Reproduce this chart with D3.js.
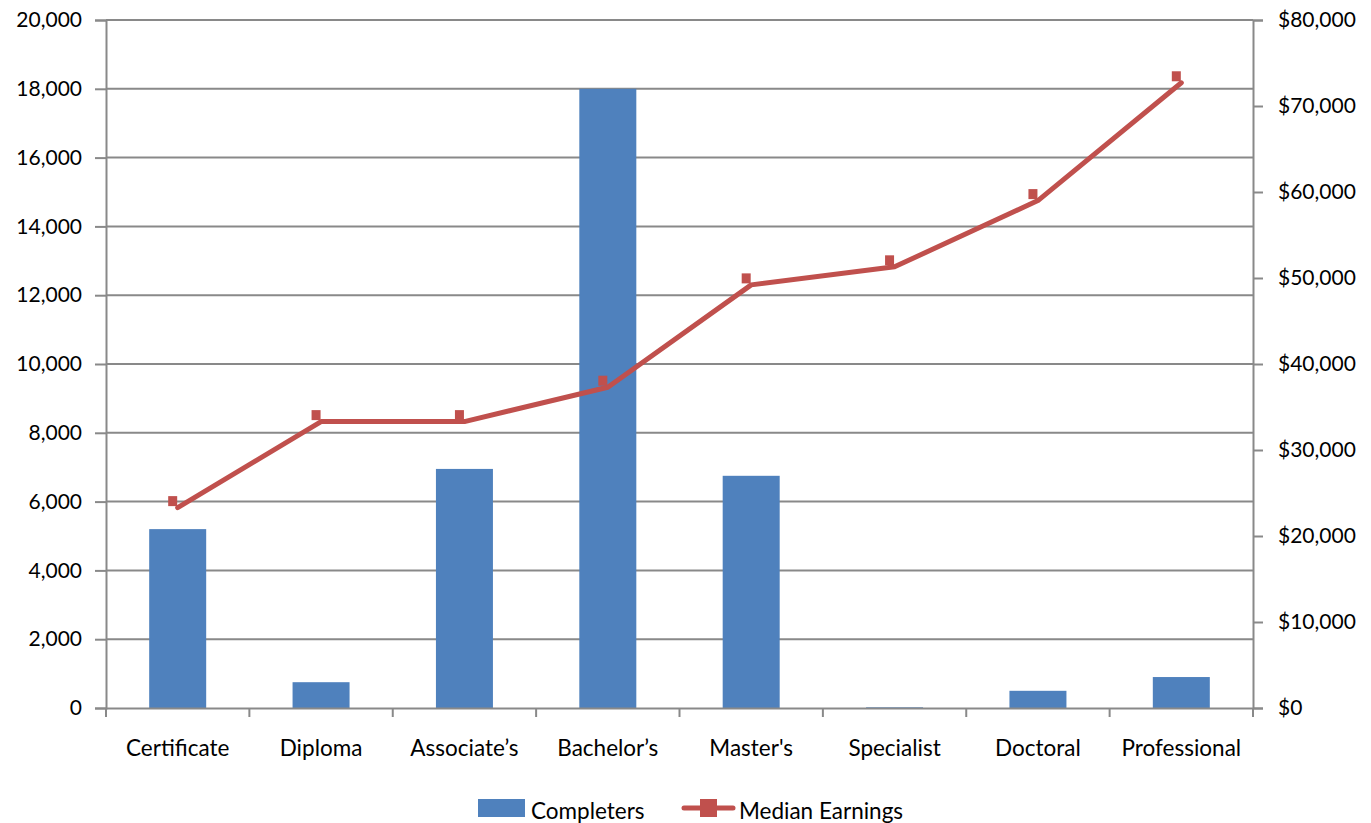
<!DOCTYPE html>
<html><head><meta charset="utf-8">
<script src="https://cdn.jsdelivr.net/npm/d3@7/dist/d3.min.js"></script>
<style>body{margin:0;background:#fff}text{font-family:Lato,"Open Sans",sans-serif;fill:#000}</style>
</head><body><svg id="c" width="1371" height="823"></svg>
<script>
const categories = ["Certificate","Diploma","Associate\u2019s","Bachelor\u2019s","Master's","Specialist","Doctoral","Professional"];
const completers = [5200, 750, 6950, 18000, 6750, 20, 500, 900];
const earnings = [23300, 33300, 33300, 37300, 49200, 51300, 59000, 72700];
const leftTicks = [0,2000,4000,6000,8000,10000,12000,14000,16000,18000,20000];
const rightTicks = [0,10000,20000,30000,40000,50000,60000,70000,80000];
const seriesNames = ["Completers","Median Earnings"];

const svg = d3.select("#c");
const L = 106, R = 1253, T = 20, B = 708;
const xc = d3.scaleBand().domain(categories).range([L, R]);
const yL = d3.scaleLinear().domain([0,20000]).range([B,T]);
const yR = d3.scaleLinear().domain([0,80000]).range([B,T]);
const grid = "#898989", blue = "#4F81BD", red = "#C0504D";

// gridlines
svg.append("g").selectAll("line").data(leftTicks.filter(d=>d>0)).join("line")
  .attr("x1",L).attr("x2",R).attr("y1",d=>yL(d)).attr("y2",d=>yL(d))
  .attr("stroke",grid).attr("stroke-width",2);

// bars
svg.append("g").selectAll("rect").data(categories).join("rect")
  .attr("x",d=>xc(d)+xc.bandwidth()/2-28.5).attr("width",57)
  .attr("y",(d,i)=>yL(completers[i])).attr("height",(d,i)=>B-yL(completers[i]))
  .attr("fill",blue);

// left axis
const gl = svg.append("g").attr("transform",`translate(${L},0)`)
  .call(d3.axisLeft(yL).tickValues(leftTicks).tickFormat(d3.format(",")).tickSize(11).tickPadding(13));
// right axis
const gr = svg.append("g").attr("transform",`translate(${R},0)`)
  .call(d3.axisRight(yR).tickValues(rightTicks).tickFormat(d=>"$"+d3.format(",")(d)).tickSize(10).tickPadding(15));
// bottom axis
const gb = svg.append("g").attr("transform",`translate(0,${B})`)
  .call(d3.axisBottom(xc).tickSize(0).tickPadding(32));
// category boundary ticks
svg.append("g").selectAll("line").data(categories.concat(["_end"])).join("line")
  .attr("x1",(d,i)=>L+i*xc.step()).attr("x2",(d,i)=>L+i*xc.step())
  .attr("y1",B).attr("y2",B+9).attr("stroke",grid).attr("stroke-width",2);

[gl,gr,gb].forEach(g=>{
  g.selectAll("path.domain").attr("stroke",grid).attr("stroke-width",2);
  g.selectAll(".tick line").attr("stroke",grid).attr("stroke-width",2);
  g.selectAll("text").style("font-size","21px").style("font-family","Lato, sans-serif").attr("fill","#000");
});
gb.selectAll("text").style("font-size","22.5px");

// line
const line = d3.line().x((d,i)=>xc(categories[i])+xc.bandwidth()/2).y(d=>yR(d));
svg.append("path").datum(earnings).attr("d",line).attr("fill","none")
  .attr("stroke",red).attr("stroke-width",5).attr("stroke-linejoin","round").attr("stroke-linecap","round");
svg.append("g").selectAll("rect").data(earnings).join("rect")
  .attr("x",(d,i)=>xc(categories[i])+xc.bandwidth()/2-9.5).attr("y",d=>yR(d)-11.5)
  .attr("width",9).attr("height",10).attr("fill",red);

// legend
const lg = svg.append("g");
lg.append("rect").attr("x",478).attr("y",799).attr("width",47).attr("height",18).attr("fill",blue);
lg.append("text").attr("x",531).attr("y",819).style("font-size","22.5px").text(seriesNames[0]);
lg.append("line").attr("x1",684).attr("x2",733).attr("y1",808).attr("y2",808).attr("stroke",red).attr("stroke-width",5).attr("stroke-linecap","round");
lg.append("rect").attr("x",700).attr("y",799).attr("width",17).attr("height",18).attr("fill",red);
lg.append("text").attr("x",739).attr("y",819).style("font-size","22.5px").text(seriesNames[1]);
</script></body></html>
